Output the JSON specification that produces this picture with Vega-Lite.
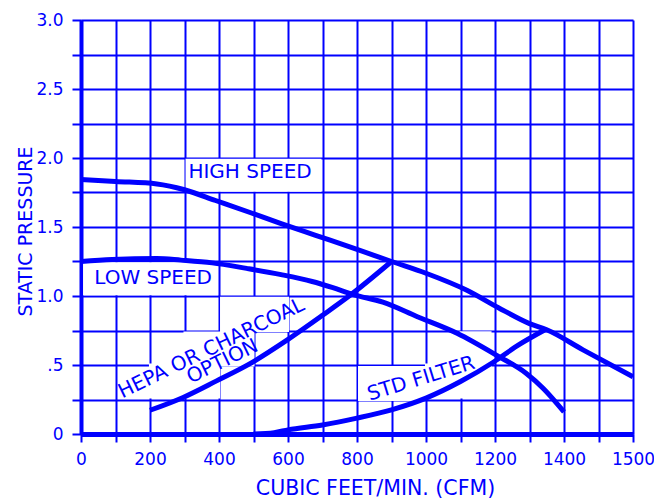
{
  "$schema": "https://vega.github.io/schema/vega-lite/v6.json",
  "width": 552,
  "height": 414,
  "autosize": {"type": "none"},
  "padding": {"left": 81, "top": 20, "right": 21, "bottom": 66},
  "background": "white",
  "config": {
    "view": {"stroke": null},
    "text": {"font": "DejaVu Sans"}
  },
  "datasets": {
    "masks": [
      {"x": 303, "x2": 697, "y": 1.755, "y2": 1.995},
      {"x": 6, "x2": 397, "y": 1.005, "y2": 1.245},
      {"x": 403, "x2": 603, "y": 0.74, "y2": 0.995},
      {"x": 297, "x2": 503, "y": 0.49, "y2": 0.742},
      {"x": 197, "x2": 403, "y": 0.258, "y2": 0.51},
      {"x": 803, "x2": 997, "y": 0.24, "y2": 0.492},
      {"x": 997, "x2": 1097, "y": 0.258, "y2": 0.51},
      {"x": 1097, "x2": 1190, "y": 0.258, "y2": 0.745}
    ],
    "curves": [
      {"curve": "high", "x": 0, "y": 1.845},
      {"curve": "high", "x": 100, "y": 1.83},
      {"curve": "high", "x": 220, "y": 1.812},
      {"curve": "high", "x": 300, "y": 1.77},
      {"curve": "high", "x": 390, "y": 1.692},
      {"curve": "high", "x": 490, "y": 1.605},
      {"curve": "high", "x": 580, "y": 1.525},
      {"curve": "high", "x": 680, "y": 1.44},
      {"curve": "high", "x": 800, "y": 1.338},
      {"curve": "high", "x": 900, "y": 1.25},
      {"curve": "high", "x": 1000, "y": 1.165},
      {"curve": "high", "x": 1120, "y": 1.04},
      {"curve": "high", "x": 1210, "y": 0.915},
      {"curve": "high", "x": 1300, "y": 0.8},
      {"curve": "high", "x": 1350, "y": 0.755},
      {"curve": "high", "x": 1455, "y": 0.61},
      {"curve": "high", "x": 1600, "y": 0.415},
      {"curve": "low", "x": 0, "y": 1.25},
      {"curve": "low", "x": 90, "y": 1.265},
      {"curve": "low", "x": 220, "y": 1.272},
      {"curve": "low", "x": 290, "y": 1.26},
      {"curve": "low", "x": 380, "y": 1.24},
      {"curve": "low", "x": 480, "y": 1.2},
      {"curve": "low", "x": 580, "y": 1.155},
      {"curve": "low", "x": 670, "y": 1.105},
      {"curve": "low", "x": 730, "y": 1.06},
      {"curve": "low", "x": 790, "y": 1.01},
      {"curve": "low", "x": 875, "y": 0.955},
      {"curve": "low", "x": 975, "y": 0.85},
      {"curve": "low", "x": 1090, "y": 0.73},
      {"curve": "low", "x": 1205, "y": 0.57},
      {"curve": "low", "x": 1290, "y": 0.44},
      {"curve": "low", "x": 1340, "y": 0.33},
      {"curve": "low", "x": 1400, "y": 0.16},
      {"curve": "hepa", "x": 200, "y": 0.172},
      {"curve": "hepa", "x": 296, "y": 0.265},
      {"curve": "hepa", "x": 393, "y": 0.385},
      {"curve": "hepa", "x": 490, "y": 0.51},
      {"curve": "hepa", "x": 597, "y": 0.68},
      {"curve": "hepa", "x": 700, "y": 0.86},
      {"curve": "hepa", "x": 780, "y": 1.005},
      {"curve": "hepa", "x": 900, "y": 1.25},
      {"curve": "std", "x": 500, "y": 0.0},
      {"curve": "std", "x": 560, "y": 0.01},
      {"curve": "std", "x": 600, "y": 0.03},
      {"curve": "std", "x": 700, "y": 0.065},
      {"curve": "std", "x": 800, "y": 0.115},
      {"curve": "std", "x": 900, "y": 0.175},
      {"curve": "std", "x": 1000, "y": 0.26},
      {"curve": "std", "x": 1100, "y": 0.38},
      {"curve": "std", "x": 1195, "y": 0.52},
      {"curve": "std", "x": 1265, "y": 0.64},
      {"curve": "std", "x": 1345, "y": 0.755}
    ],
    "flatLabels": [
      {"x": 490, "y": 1.895, "label": "HIGH SPEED"},
      {"x": 209, "y": 1.134, "label": "LOW SPEED"}
    ],
    "hepaLabels": [
      {"x": 378, "y": 0.62, "label": "HEPA OR CHARCOAL"},
      {"x": 410, "y": 0.525, "label": "OPTION"}
    ],
    "stdLabels": [
      {"x": 986, "y": 0.4, "label": "STD FILTER"}
    ]
  },
  "encoding": {
    "x": {
      "field": "x", "type": "quantitative",
      "scale": {"domain": [0, 1600], "nice": false, "zero": false},
      "axis": {
        "title": "CUBIC FEET/MIN.  (CFM)",
        "values": [0, 100, 200, 300, 400, 500, 600, 700, 800, 900, 1000, 1100, 1200, 1300, 1400, 1500, 1600],
        "format": "d",
        "labelExpr": "datum.value == 1600 ? '1500' : (datum.value % 200 == 0 ? datum.label : '')",
        "grid": true, "gridColor": "#0000ff", "gridWidth": 2, "gridOpacity": 1,
        "domainColor": "#0000ff", "domainWidth": 5,
        "tickColor": "#0000ff", "tickWidth": 2, "tickSize": 8,
        "labelColor": "#0000ff", "labelFont": "DejaVu Sans", "labelFontSize": 17,
        "labelPadding": 9, "labelFlush": false, "labelOverlap": false,
        "titleColor": "#0000ff", "titleFont": "DejaVu Sans", "titleFontSize": 20.5,
        "titleFontWeight": "normal", "titleX": 294, "titleY": 54, "titleBaseline": "middle", "titleAlign": "center"
      }
    },
    "y": {
      "field": "y", "type": "quantitative",
      "scale": {"domain": [0, 3], "nice": false, "zero": false},
      "axis": {
        "title": "STATIC PRESSURE",
        "values": [0, 0.25, 0.5, 0.75, 1, 1.25, 1.5, 1.75, 2, 2.25, 2.5, 2.75, 3],
        "labelExpr": "datum.value == 0 ? '0' : (datum.value == 0.5 ? '.5' : ((datum.value * 2) % 1 == 0 ? format(datum.value, '.1f') : ''))",
        "grid": true, "gridColor": "#0000ff", "gridWidth": 2, "gridOpacity": 1,
        "domainColor": "#0000ff", "domainWidth": 4,
        "tickColor": "#0000ff", "tickWidth": 2, "tickSize": 9,
        "labelColor": "#0000ff", "labelFont": "DejaVu Sans", "labelFontSize": 17,
        "labelPadding": 9, "labelFlush": false, "labelOverlap": false,
        "titleColor": "#0000ff", "titleFont": "DejaVu Sans", "titleFontSize": 19,
        "titleFontWeight": "normal", "titleX": -55.5, "titleY": 211, "titleBaseline": "middle", "titleAlign": "center", "titleAngle": -90
      }
    }
  },
  "layer": [
    {
      "data": {"name": "masks"},
      "mark": {"type": "rect", "color": "white", "opacity": 1},
      "encoding": {
        "x2": {"field": "x2"},
        "y2": {"field": "y2"}
      }
    },
    {
      "data": {"name": "curves"},
      "mark": {"type": "line", "color": "#0000ff", "strokeWidth": 5, "interpolate": "monotone", "strokeCap": "butt"},
      "encoding": {
        "detail": {"field": "curve"}
      }
    },
    {
      "data": {"name": "flatLabels"},
      "mark": {"type": "text", "color": "#0000ff", "font": "DejaVu Sans", "fontSize": 20, "align": "center", "baseline": "middle"},
      "encoding": {
        "text": {"field": "label"}
      }
    },
    {
      "data": {"name": "hepaLabels"},
      "mark": {"type": "text", "color": "#0000ff", "font": "DejaVu Sans", "fontSize": 20, "align": "center", "baseline": "middle", "angle": 334},
      "encoding": {
        "text": {"field": "label"}
      }
    },
    {
      "data": {"name": "stdLabels"},
      "mark": {"type": "text", "color": "#0000ff", "font": "DejaVu Sans", "fontSize": 20, "align": "center", "baseline": "middle", "angle": 343},
      "encoding": {
        "text": {"field": "label"}
      }
    }
  ]
}
